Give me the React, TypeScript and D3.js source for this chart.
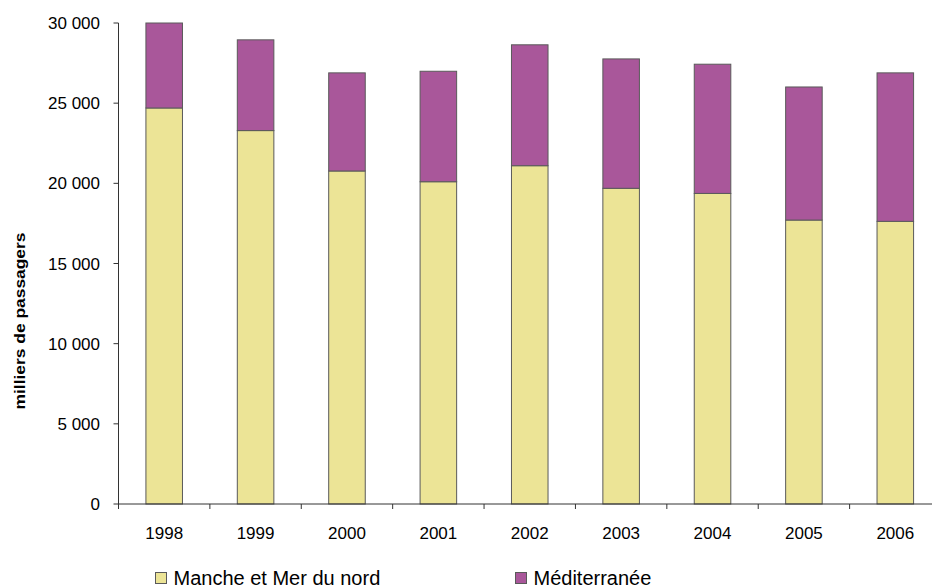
import * as d3 from "d3";

const years = ["1998", "1999", "2000", "2001", "2002", "2003", "2004", "2005", "2006"];
const manche = [24700, 23290, 20770, 20100, 21100, 19690, 19370, 17710, 17630];
const mediterranee = [5300, 5660, 6120, 6890, 7540, 8070, 8060, 8300, 9260];
const yTicks = [0, 5000, 10000, 15000, 20000, 25000, 30000];
const seriesNames = ["Manche et Mer du nord", "Méditerranée"];
const colors = ["#ECE496", "#A9579A"];

const W = 932;
const H = 588;
const font = "'Liberation Sans', Arial, sans-serif";

const fmt = (v: number) => d3.format(",")(v).replace(/,/g, " ");

export default function App() {
  const x = d3
    .scaleBand<string>()
    .domain(years)
    .range([118.5, 941])
    .paddingInner(0.6)
    .paddingOuter(0.3);
  const y = d3.scaleLinear().domain([0, 30000]).range([504, 23]);

  const step = x.step();
  const x0 = 118.5;

  const stacked = years.map((yr, i) => ({
    year: yr,
    parts: [
      { y0: 0, y1: manche[i], c: colors[0] },
      { y0: manche[i], y1: manche[i] + mediterranee[i], c: colors[1] },
    ],
  }));

  return (
    <svg
      width={W}
      height={H}
      style={{ position: "absolute", left: 0, top: 0, display: "block", background: "#fff" }}
      fontFamily={font}
    >
      {/* bars */}
      {stacked.map((d) =>
        d.parts.map((p, j) => (
          <rect
            key={d.year + j}
            x={x(d.year)}
            width={x.bandwidth()}
            y={y(p.y1)}
            height={y(p.y0) - y(p.y1)}
            fill={p.c}
            stroke="#5a5a5a"
            strokeWidth={1}
          />
        ))
      )}

      {/* y axis */}
      <line x1={x0} x2={x0} y1={y(30000)} y2={y(0)} stroke="#333" />
      {yTicks.map((t) => (
        <g key={t}>
          <line x1={x0 - 5} x2={x0} y1={y(t)} y2={y(t)} stroke="#333" />
          <text x={100} y={y(t)} dy="0.36em" textAnchor="end" fontSize={17} fill="#000">
            {fmt(t)}
          </text>
        </g>
      ))}

      {/* x axis */}
      <line x1={x0} x2={941} y1={y(0)} y2={y(0)} stroke="#333" />
      {d3.range(years.length + 1).map((k) => (
        <line
          key={k}
          x1={x0 + k * step}
          x2={x0 + k * step}
          y1={y(0)}
          y2={y(0) + 5}
          stroke="#333"
        />
      ))}
      {years.map((yr) => (
        <text
          key={yr}
          x={(x(yr) ?? 0) + x.bandwidth() / 2}
          y={539}
          textAnchor="middle"
          fontSize={17}
          fill="#000"
        >
          {yr}
        </text>
      ))}

      {/* y title */}
      <text
        transform="translate(24.5,321) rotate(-90)"
        textAnchor="middle"
        fontSize={14}
        fontWeight="bold"
        fill="#000"
        textLength={177}
        lengthAdjust="spacingAndGlyphs"
      >
        milliers de passagers
      </text>

      {/* legend */}
      {seriesNames.map((name, i) => {
        const lx = i === 0 ? 155.5 : 515.5;
        return (
          <g key={name}>
            <rect x={lx} y={572.5} width={11} height={11} fill={colors[i]} stroke="#5a5a5a" />
            <text x={lx + 18} y={584.5} fontSize={20} fill="#000">
              {name}
            </text>
          </g>
        );
      })}
    </svg>
  );
}
